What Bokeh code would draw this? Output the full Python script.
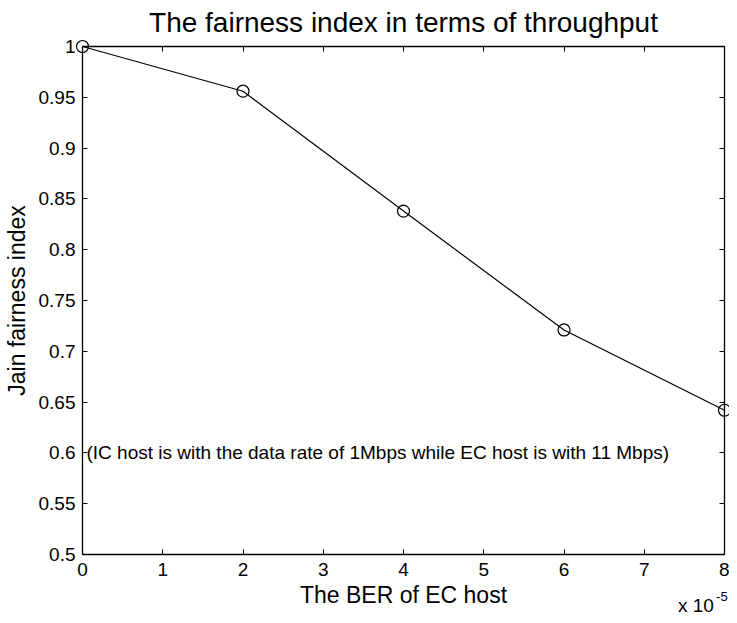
from bokeh.plotting import figure
from bokeh.models import LinearAxis, FixedTicker, Range1d, CustomLabelingPolicy
from bokeh.core.properties import value
from bokeh.embed import file_html
from bokeh.resources import INLINE

# ---- data ----
ber = [0, 2, 4, 6, 8]
fairness = [1.0, 0.956, 0.838, 0.721, 0.642]

x_ticks = [0, 1, 2, 3, 4, 5, 6, 7, 8]
x_tick_labels = ["0", "1", "2", "3", "4", "5", "6", "7", "8"]
y_ticks = [0.5, 0.55, 0.6, 0.65, 0.7, 0.75, 0.8, 0.85, 0.9, 0.95, 1.0]
y_tick_labels = ["0.5", "0.55", "0.6", "0.65", "0.7", "0.75", "0.8", "0.85", "0.9", "0.95", "1"]

title_text = "The fairness index in terms of throughput"
x_label = "The BER of EC host"
y_label = "Jain fairness index"
note_x = [0]
note_y = [0.6]
note_text = ["(IC host is with the data rate of 1Mbps while EC host is with 11 Mbps)"]
mult_x = [7.42]
mult_y = [0.45]
mult_text = ["x 10"]
exp_x = [7.895]
exp_y = [0.459]
exp_text = ["-5"]

FONT = "Liberation Sans"

p = figure(width=729, height=615, output_backend="svg", toolbar_location=None,
           x_range=Range1d(0, 8), y_range=Range1d(0.5, 1.0),
           min_border_left=80, min_border_right=5, min_border_top=44, min_border_bottom=61,
           x_axis_location=None, y_axis_location=None)
p.xgrid.visible = False
p.ygrid.visible = False
p.outline_line_color = None
p.background_fill_color = "white"
p.border_fill_color = "white"

p.title.text = title_text
p.title.text_font = FONT
p.title.text_font_size = "28px"
p.title.text_font_style = "normal"
p.title.align = "center"
p.title.text_color = "black"
p.title.text_line_height = 1.0
p.title.standoff = 9

hide_all = CustomLabelingPolicy(code="""
    const ii = [...indices]
    for (const i of ii) indices.unset(i)
    return indices
""")

def style_axis(ax, labels=True):
    ax.axis_line_color = "black"
    ax.axis_line_width = 1.3
    ax.major_tick_line_color = "black"
    ax.major_tick_line_width = 1
    ax.major_tick_in = 5
    ax.major_tick_out = 0
    ax.minor_tick_line_color = None
    ax.major_label_text_font = FONT
    ax.major_label_text_color = "black"
    ax.axis_label_text_color = "black"
    if labels:
        ax.major_label_text_font_size = "19px"
        ax.major_label_standoff = 8
    else:
        ax.major_label_text_font_size = "1px"
        ax.major_label_standoff = 0
        ax.major_label_policy = hide_all
        ax.axis_label = None

xb = LinearAxis(ticker=FixedTicker(ticks=x_ticks),
                major_label_overrides={t: l for t, l in zip(x_ticks, x_tick_labels)})
style_axis(xb)
xb.axis_label = x_label
xb.axis_label_text_font = FONT
xb.axis_label_text_font_size = "23px"
xb.axis_label_text_font_style = "normal"
xb.axis_label_standoff = 3
p.add_layout(xb, "below")

yl = LinearAxis(ticker=FixedTicker(ticks=y_ticks),
                major_label_overrides={t: l for t, l in zip(y_ticks, y_tick_labels)})
style_axis(yl)
yl.major_label_standoff = 7
yl.axis_label = y_label
yl.axis_label_text_font = FONT
yl.axis_label_text_font_size = "23px"
yl.axis_label_text_font_style = "normal"
yl.axis_label_standoff = 6
p.add_layout(yl, "left")

xt = LinearAxis(ticker=FixedTicker(ticks=x_ticks))
style_axis(xt, labels=False)
p.add_layout(xt, "above")
yr = LinearAxis(ticker=FixedTicker(ticks=y_ticks))
style_axis(yr, labels=False)
p.add_layout(yr, "right")

p.line(ber, fairness, line_color="black", line_width=1.2, level="overlay")
p.scatter(ber, fairness, marker="circle", size=12, fill_color=None,
          line_color="black", line_width=1.2, level="overlay")

p.text(x=note_x, y=note_y, text=note_text, text_align="left", text_baseline="middle",
       text_font=value(FONT), text_font_size="19px", text_color="black", x_offset=4,
       level="overlay")

p.text(x=mult_x, y=mult_y, text=mult_text, text_align="left", text_baseline="alphabetic",
       text_font=value(FONT), text_font_size="19px", text_color="black", level="overlay")
p.text(x=exp_x, y=exp_y, text=exp_text, text_align="left", text_baseline="alphabetic",
       text_font=value(FONT), text_font_size="13px", text_color="black", level="overlay")

open("out.html", "w").write(file_html(p, INLINE))
